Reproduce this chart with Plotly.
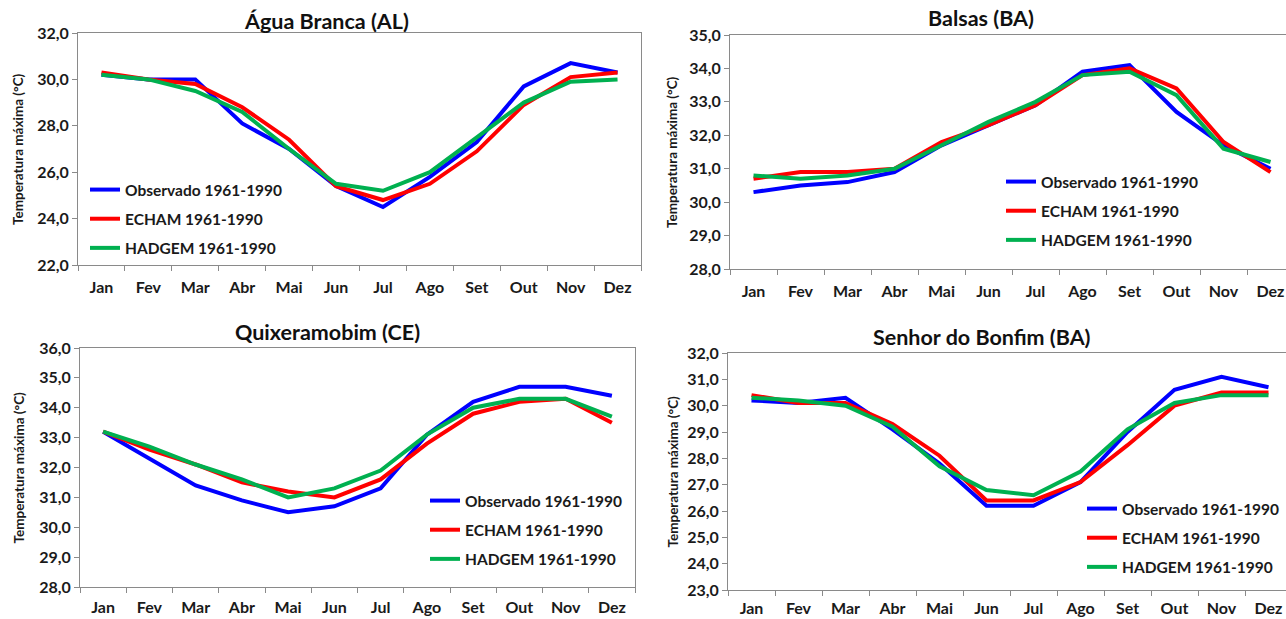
import plotly.graph_objects as go

months = ["Jan", "Fev", "Mar", "Abr", "Mai", "Jun", "Jul", "Ago", "Set", "Out", "Nov", "Dez"]
series_names = ["Observado 1961-1990", "ECHAM 1961-1990", "HADGEM 1961-1990"]
colors = ["#0000FF", "#FF0000", "#00B050"]

# Água Branca (AL)
agua_obs = [30.2, 30.0, 30.0, 28.1, 27.0, 25.4, 24.5, 25.8, 27.3, 29.7, 30.7, 30.3]
agua_echam = [30.3, 30.0, 29.8, 28.8, 27.4, 25.4, 24.8, 25.5, 26.9, 28.9, 30.1, 30.3]
agua_hadgem = [30.2, 30.0, 29.5, 28.6, 27.0, 25.5, 25.2, 26.0, 27.5, 29.0, 29.9, 30.0]

# Balsas (BA)
balsas_obs = [30.3, 30.5, 30.6, 30.9, 31.7, 32.3, 32.9, 33.9, 34.1, 32.7, 31.7, 31.0]
balsas_echam = [30.7, 30.9, 30.9, 31.0, 31.8, 32.3, 32.9, 33.8, 34.0, 33.4, 31.8, 30.9]
balsas_hadgem = [30.8, 30.7, 30.8, 31.0, 31.7, 32.4, 33.0, 33.8, 33.9, 33.2, 31.6, 31.2]

# Quixeramobim (CE)
quix_obs = [33.2, 32.3, 31.4, 30.9, 30.5, 30.7, 31.3, 33.1, 34.2, 34.7, 34.7, 34.4]
quix_echam = [33.2, 32.6, 32.1, 31.5, 31.2, 31.0, 31.6, 32.8, 33.8, 34.2, 34.3, 33.5]
quix_hadgem = [33.2, 32.7, 32.1, 31.6, 31.0, 31.3, 31.9, 33.1, 34.0, 34.3, 34.3, 33.7]

# Senhor do Bonfim (BA)
bonfim_obs = [30.2, 30.1, 30.3, 29.1, 27.8, 26.2, 26.2, 27.1, 29.0, 30.6, 31.1, 30.7]
bonfim_echam = [30.4, 30.1, 30.1, 29.3, 28.1, 26.4, 26.4, 27.1, 28.5, 30.0, 30.5, 30.5]
bonfim_hadgem = [30.3, 30.2, 30.0, 29.2, 27.7, 26.8, 26.6, 27.5, 29.1, 30.1, 30.4, 30.4]

titles = ["Água Branca (AL)", "Balsas (BA)", "Quixeramobim (CE)", "Senhor do Bonfim (BA)"]
ytitle = "Temperatura máxima (°C)"

W, H = 1286, 619
FONT = "Lato"
TXT = "#1a1a1a"
AX = "#8a8a8a"

def px(x):
    return x / W

def py(y):
    return 1 - y / H

panels = [
    dict(data=[agua_obs, agua_echam, agua_hadgem], x0=78, x1=641, y0=33, y1=265,
         yr=[22, 32], dt=2, xr=[-0.5, 11.5], mirror_y=True, so=8,
         title=(326, 21), ytl=18, leg=(85, 173)),
    dict(data=[balsas_obs, balsas_echam, balsas_hadgem], x0=730, x1=1286, y0=35, y1=269,
         yr=[28, 35], dt=1, xr=[-0.5, -0.5 + 556 / 47], mirror_y=False, so=8,
         title=(981, 18), ytl=672, leg=(1001, 165)),
    dict(data=[quix_obs, quix_echam, quix_hadgem], x0=80, x1=635, y0=348, y1=587,
         yr=[28, 36], dt=1, xr=[-0.5, 11.5], mirror_y=True, so=6,
         title=(327, 332), ytl=18, leg=(425, 484)),
    dict(data=[bonfim_obs, bonfim_echam, bonfim_hadgem], x0=728, x1=1286, y0=353, y1=590,
         yr=[23, 32], dt=1, xr=[-0.5, -0.5 + 558 / 47], mirror_y=False, so=4,
         title=(982, 337), ytl=672, leg=(1082, 492)),
]

fig = go.Figure()
annotations = []
layout = dict(
    template="none",
    width=W, height=H, margin=dict(l=0, r=0, t=0, b=0, autoexpand=False),
    paper_bgcolor="white", plot_bgcolor="white",
    separators=",.",
    font=dict(family=FONT, size=15, color=TXT),
)

for i, p in enumerate(panels):
    n = "" if i == 0 else str(i + 1)
    xa, ya = "xaxis" + n, "yaxis" + n
    lg = "legend" + n
    for k in range(3):
        fig.add_trace(go.Scatter(
            x=months, y=p["data"][k], mode="lines", name=series_names[k],
            line=dict(color=colors[k], width=4),
            xaxis="x" + n, yaxis="y" + n, legend=lg,
            legendgroup=f"g{i}{k}", showlegend=True,
        ))
    layout[xa] = dict(
        domain=[px(p["x0"]), px(p["x1"])], anchor="y" + n,
        type="category", range=p["xr"], tickson="boundaries",
        showline=True, linecolor=AX, linewidth=1, mirror=True,
        ticks="outside", ticklen=5, tickcolor=AX, ticklabelstandoff=p["so"],
        showgrid=False, zeroline=False, automargin=False,
        tickfont=dict(family=FONT, size=16, color=TXT, weight="bold"),
    )
    layout[ya] = dict(
        domain=[py(p["y1"]), py(p["y0"])], anchor="x" + n,
        range=p["yr"], dtick=p["dt"], tick0=0, tickformat=".1f",
        showline=True, linecolor=AX, linewidth=1, mirror=p["mirror_y"],
        ticks="outside", ticklen=5, tickcolor=AX,
        showgrid=False, zeroline=False, automargin=False,
        tickfont=dict(family=FONT, size=16, color=TXT, weight="bold"),
    )
    layout[lg] = dict(
        x=px(p["leg"][0]), y=py(p["leg"][1]), xanchor="left", yanchor="top",
        bgcolor="rgba(0,0,0,0)", borderwidth=0,
        font=dict(family=FONT, size=15.5, color=TXT, weight="bold"),
        tracegroupgap=6, itemwidth=30,
    )
    annotations.append(dict(
        x=px(p["title"][0]), y=py(p["title"][1]), xref="paper", yref="paper",
        text=titles[i], showarrow=False, xanchor="center", yanchor="middle",
        font=dict(family=FONT, size=21.5, color="#111111", weight="bold"),
    ))
    annotations.append(dict(
        x=px(p["ytl"]), y=py((p["y0"] + p["y1"]) / 2), xref="paper", yref="paper",
        text=ytitle, showarrow=False, textangle=-90, xanchor="center", yanchor="middle",
        font=dict(family=FONT, size=13.5, color=TXT, weight="bold"),
    ))

layout["annotations"] = annotations
fig.update_layout(**layout)
fig.write_html("out.html")
